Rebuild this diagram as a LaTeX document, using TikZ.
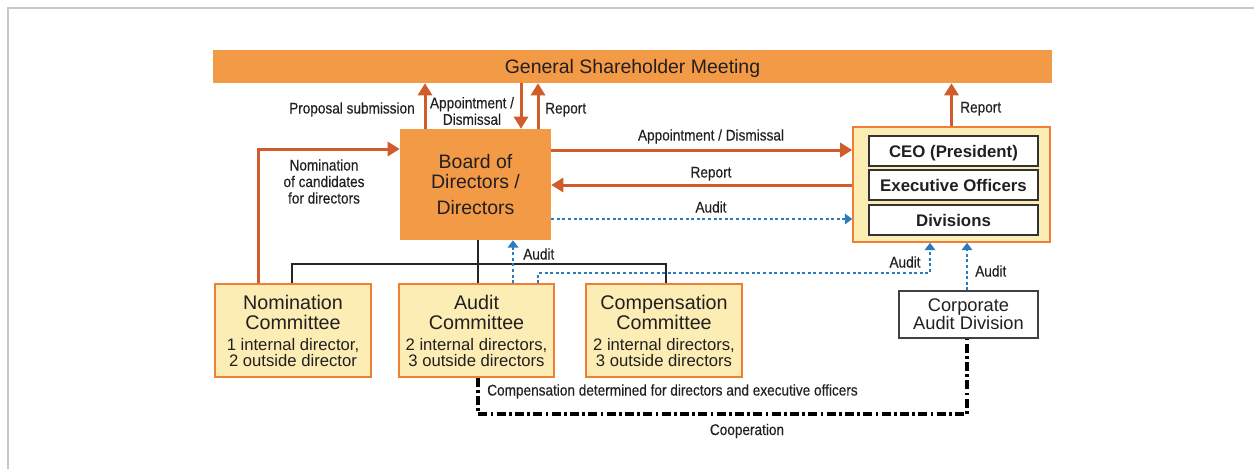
\documentclass[tikz,border=0pt]{standalone}
\usepackage{fontspec}
\setmainfont{Liberation Sans}
\newfontfamily\condfont{Liberation Sans}[FakeStretch=0.88,FakeBold=0.3]
\usetikzlibrary{arrows.meta}
\definecolor{orfill}{HTML}{F39A46}
\definecolor{arrred}{HTML}{D05C2B}
\definecolor{yel}{HTML}{FCEDB5}
\definecolor{yelborder}{HTML}{EE7F35}
\definecolor{blu}{HTML}{2A7CBF}
\definecolor{txt}{HTML}{231F20}
\definecolor{framegray}{HTML}{C8C8C8}
\newcommand\cmtsmall{\fontsize{12.5}{12}\selectfont}
\begin{document}
\begin{tikzpicture}[x=0.75pt,y=-0.75pt,
  every node/.style={text=txt},
  bigbox/.style={fill=orfill, inner sep=0pt, font=\fontsize{14.6}{15}\selectfont, align=center},
  cmtbox/.style={fill=yel, draw=yelborder, line width=1.2pt, inner sep=0pt, minimum height=69.75pt,
    font=\fontsize{14.8}{15}\selectfont, align=center},
  ceobox/.style={fill=yel, draw=yelborder, line width=1.2pt, inner sep=0pt},
  inbox/.style={fill=white, draw=black!80, line width=0.9pt, inner sep=0pt, minimum width=126.75pt,
    minimum height=22.5pt, font=\bfseries\fontsize{12.6}{13}\selectfont, text height=9pt, text depth=0pt},
  cadbox/.style={fill=white, draw=black!75, line width=1pt, inner sep=0pt,
    font=\fontsize{13.7}{13.5}\selectfont, align=center},
  lab/.style={font=\condfont\fontsize{11.6}{12.4}\selectfont, inner sep=0pt},
  redarr/.style={draw=arrred, line width=2.25pt, -{Triangle[length=9pt,width=10.5pt]}},
  treeline/.style={draw=black!85, line width=1pt},
  bluarr/.style={draw=blu, line width=1.1pt, dash pattern=on 2.2pt off 2pt,
    -{Triangle[length=5.5pt,width=8pt]}},
  coopline/.style={draw=black, line width=2.3pt, dash pattern=on 6.75pt off 2.5pt on 2pt off 2.5pt}
]
\useasboundingbox (0,0) rectangle (1254,469);
\draw[framegray, line width=1.5pt] (8,469) -- (8,8) -- (1254,8);

% boxes
\node[bigbox, minimum width=629.25pt, minimum height=24.75pt, text height=10.5pt, text depth=0pt]
  (gsm) at (632.5,66.5) {General Shareholder Meeting};
\node[bigbox, minimum width=113.25pt, minimum height=83.25pt]
  (board) at (475.5,184.5) {Board of\\Directors /\\[4.5pt]Directors};
\node[ceobox, minimum width=147.75pt, minimum height=86.25pt] (ceo) at (951.5,184.5) {};
\node[inbox] (pres) at (953.5,151) {CEO (President)};
\node[inbox] (exec) at (953.5,185) {Executive Officers};
\node[inbox] (div) at (953.5,220) {Divisions};

\node[cmtbox, minimum width=117pt] (nom) at (293,330.5)
  {Nomination\\Committee\\[0.75pt]{\cmtsmall 1 internal director,}\\[-3pt]{\cmtsmall 2 outside director}};
\node[cmtbox, minimum width=116.25pt] (aud) at (476.5,330.5)
  {Audit\\Committee\\[0.75pt]{\cmtsmall 2 internal directors,}\\[-3pt]{\cmtsmall 3 outside directors}};
\node[cmtbox, minimum width=117pt] (comp) at (664,330.5)
  {Compensation\\Committee\\[0.75pt]{\cmtsmall 2 internal directors,}\\[-3pt]{\cmtsmall 3 outside directors}};
\node[cadbox, minimum width=104.25pt, minimum height=35.25pt] (cad) at (968.5,314.5)
  {Corporate\\Audit Division};

% red connectors
\draw[redarr] (425,0 |- board.north) -- (425,0 |- gsm.south);
\draw[redarr] (521,0 |- gsm.south) -- (521,0 |- board.north);
\draw[redarr] (538,0 |- board.north) -- (538,0 |- gsm.south);
\draw[redarr] (258,0 |- nom.north) |- (board.west |- 0,149);
\draw[redarr] (board.east |- 0,150) -- (ceo.west |- 0,150);
\draw[redarr] (ceo.west |- 0,185) -- (board.east |- 0,185);
\draw[redarr] (ceo.north) -- (ceo.north |- gsm.south);

% tree
\draw[treeline] (478,0 |- board.south) -- (478,0 |- aud.north);
\draw[treeline] (292,0 |- nom.north) -- (292,264) -- (666,264) -- (666,0 |- comp.north);

% blue audit
\draw[bluarr] (board.east |- 0,219) -- (ceo.west |- 0,219);
\draw[bluarr] (513,0 |- aud.north) -- (513,0 |- board.south);
\draw[bluarr] (538,0 |- aud.north) -- (538,273) -- (930,273) -- (930,0 |- ceo.south);
\draw[bluarr] (967,0 |- cad.north) -- (967,0 |- ceo.south);

% cooperation
\draw[coopline] (478,0 |- aud.south) -- (478,414) -- (967,414) -- (967,0 |- cad.south);

% labels
\node[lab, anchor=base east] (l1) at (415,113.5) {Proposal submission};
\node[lab, align=center] (l2) at (472,111) {Appointment /\\Dismissal};
\node[lab, anchor=base west] (l3) at (545,113.5) {Report};
\node[lab, align=center] (l4) at (324,181.5) {Nomination\\of candidates\\for directors};
\node[lab, anchor=base] (l5) at (711,140.5) {Appointment / Dismissal};
\node[lab, anchor=base] (l6) at (711,177.5) {Report};
\node[lab, anchor=base] (l7) at (711,212.5) {Audit};
\node[lab, anchor=base west] (l8) at (960,112.5) {Report};
\node[lab, anchor=base west] (l9) at (523,259.5) {Audit};
\node[lab, anchor=base] (l10) at (905,267.5) {Audit};
\node[lab, anchor=base west] (l11) at (975,276.5) {Audit};
\node[lab, anchor=base west] (l12) at (487,395.5) {Compensation determined for directors and executive officers};
\node[lab, anchor=base] (l13) at (747,435) {Cooperation};
\end{tikzpicture}
\end{document}
